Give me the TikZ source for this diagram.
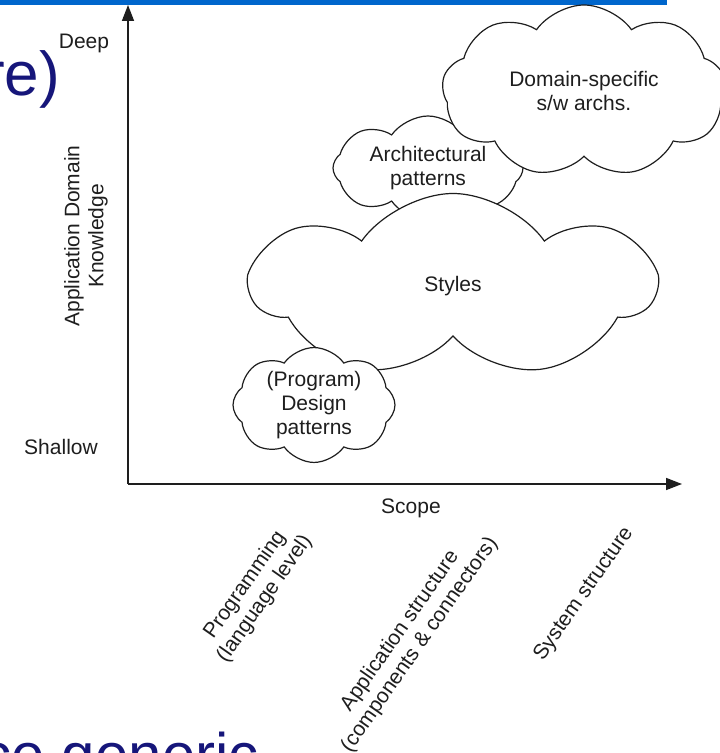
\documentclass[tikz,border=0pt]{standalone}
\usepackage{fontspec}
\setmainfont{Liberation Sans}
\usetikzlibrary{arrows.meta,shapes.symbols}
\definecolor{slideblue}{RGB}{0,102,204}
\definecolor{slidenavy}{RGB}{22,22,122}
\definecolor{inkgray}{RGB}{30,30,30}
\newcommand{\diagfont}{\fontsize{21}{24}\selectfont}
\tikzset{
  axisarr/.style  = {-{Triangle[length=16pt,width=12pt]},line width=1.6pt,inkgray},
  puffcloud/.style = {cloud,cloud ignores aspect,cloud puff arc=110,draw=inkgray,fill=white,
                      line width=1.2pt,align=center,text=inkgray,font=\diagfont,inner sep=0pt},
  axislbl/.style  = {text=inkgray,font=\diagfont,align=center,inner sep=0pt},
  slidetxt/.style = {text=slidenavy,inner sep=0pt}
}

\begin{document}
\begin{tikzpicture}[x=1pt,y=1pt]
  \clip (0,0) rectangle (720,753);
  % what is left of the slide around the figure
  \fill[slideblue] (0,748) rectangle (667,753);
  \node[slidetxt,font=\fontsize{62}{68}\selectfont,anchor=base east] (title) at (60,657) {re)};
  \node[slidetxt,font=\fontsize{60}{66}\selectfont,anchor=base east] (bullet) at (259,-23) {ce generic};
  % axes
  \coordinate (origin) at (128,269);
  \coordinate (ytip) at (128,748);
  \coordinate (xtip) at (682,269);
  \draw[axisarr] (origin) -- (ytip);
  \draw[axisarr] (origin) -- (xtip);
  \node[axislbl] (deep) at (84,710) {Deep};
  \node[axislbl] (shallow) at (61,306) {Shallow};
  \node[axislbl,rotate=90] (knowledge) at (86,517) {Application Domain\\Knowledge};
  \node[axislbl] (scope) at (411,245) {Scope};
  \node[axislbl,rotate=55] (proglvl) at (255,161) {Programming\\(language level)};
  \node[axislbl,rotate=55] (applvl) at (410,115) {Application structure\\(components \& connectors)};
  \node[axislbl,rotate=55] (syslvl) at (584,159) {System structure};
  % clouds, back to front
  \node[puffcloud,cloud puffs=8,minimum width=190pt,minimum height=104pt] (archpat) at (428,585) {Architectural\\patterns};
  \node[puffcloud,cloud puffs=9,shape border rotate=15,minimum width=284pt,minimum height=172pt] (domain) at (584,662) {Domain-specific\\s/w archs.};
  \node[puffcloud,cloud puffs=7,minimum width=402pt,minimum height=185pt] (styles) at (453,467) {Styles};
  \node[puffcloud,cloud puffs=8,minimum width=162pt,minimum height=100pt] (designpat) at (314,348) {(Program)\\Design\\patterns};
\end{tikzpicture}
\end{document}
